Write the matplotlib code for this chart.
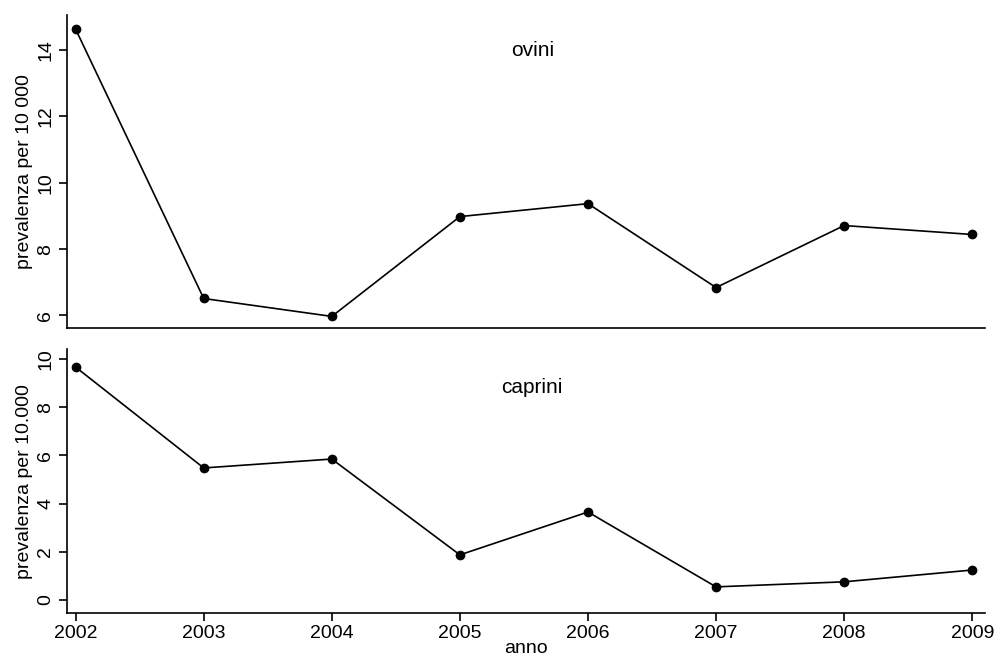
import matplotlib
matplotlib.use("Agg")
import matplotlib.pyplot as plt

anni = [2002, 2003, 2004, 2005, 2006, 2007, 2008, 2009]
ovini = [14.63, 6.51, 5.97, 8.98, 9.37, 6.84, 8.71, 8.44]
caprini = [9.67, 5.48, 5.85, 1.87, 3.65, 0.54, 0.75, 1.24]

ovini_ticks = [6, 8, 10, 12, 14]
caprini_ticks = [0, 2, 4, 6, 8, 10]

plt.rcParams['font.family'] = ['Liberation Sans', 'DejaVu Sans']

fig = plt.figure(figsize=(9.95, 6.64), dpi=100)
ax1 = fig.add_axes([0.067, 0.506, 0.923, 0.471])
ax2 = fig.add_axes([0.067, 0.077, 0.923, 0.397])


def pannello(ax, valori, ticks, ylim, titolo, ty, ylabel, asse_x):
    ax.plot(anni, valori, color='black', lw=1.2, marker='o', ms=6)
    ax.set_xlim(2001.93, 2009.1)
    ax.set_ylim(*ylim)
    ax.set_yticks(ticks)
    ax.set_xticks(anni)
    for s in ['top', 'right']:
        ax.spines[s].set_visible(False)
    ax.spines['left'].set_linewidth(1.2)
    ax.spines['bottom'].set_linewidth(1.2)
    ax.tick_params(axis='y', direction='out', length=6, width=1.2,
                   labelsize=14, labelrotation=90, pad=3)
    for lab in ax.get_yticklabels():
        lab.set_va('center')
    if asse_x:
        ax.tick_params(axis='x', direction='out', length=6, width=1.2,
                       labelsize=14, pad=3)
        ax.set_xlabel("anno", fontsize=14, labelpad=-2)
    else:
        ax.tick_params(axis='x', bottom=False, labelbottom=False)
    ax.set_ylabel(ylabel, fontsize=14, labelpad=3)
    ax.text(0.507, ty, titolo, transform=ax.transAxes, fontsize=15,
            ha='center', va='center')


pannello(ax1, ovini, ovini_ticks, (5.62, 15.05), "ovini", 0.888,
         "prevalenza per 10 000", False)
pannello(ax2, caprini, caprini_ticks, (-0.54, 10.41), "caprini", 0.856,
         "prevalenza per 10.000", True)

fig.savefig("out.png", dpi=100)
